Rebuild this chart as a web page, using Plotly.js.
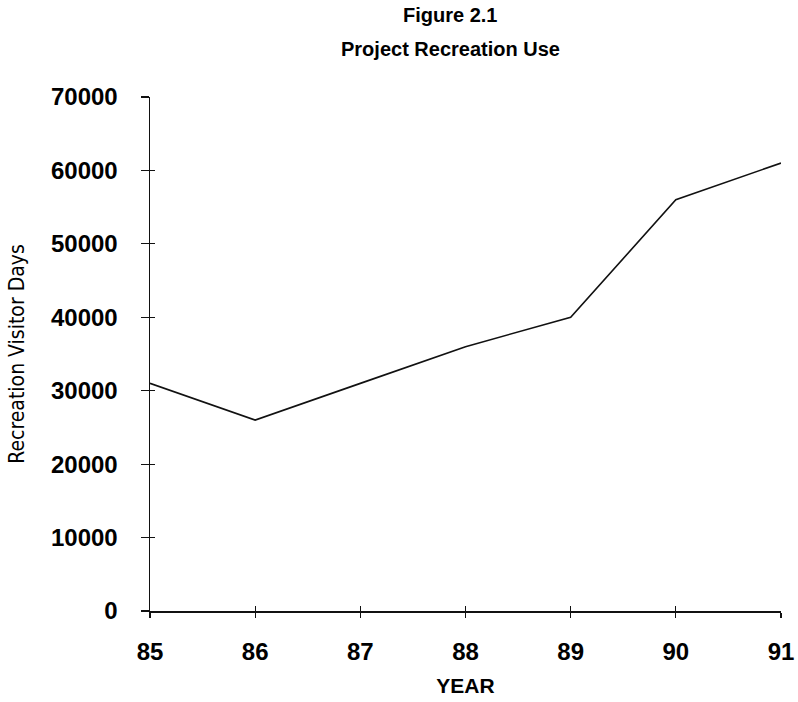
<!DOCTYPE html>
<html>
<head>
<meta charset="utf-8">
<script src="https://cdn.plot.ly/plotly-3.0.1.min.js"></script>
<style>html,body{margin:0;padding:0;background:#fff;}#chart{width:798px;height:702px;}</style>
</head>
<body>
<div id="chart"></div>
<script>
const years = [85, 86, 87, 88, 89, 90, 91];
const visitorDays = [31000, 26000, 31000, 36000, 40000, 56000, 61000];
const yTicks = [0, 10000, 20000, 30000, 40000, 50000, 60000, 70000];

const trace = {
  x: years, y: visitorDays, type: 'scatter', mode: 'lines',
  line: {color: '#111', width: 1.6}, hoverinfo: 'skip'
};
// invisible helper trace so the second (inside-tick) axes are drawn
const helper = {x: years, y: visitorDays, xaxis: 'x2', yaxis: 'y2', type: 'scatter', mode: 'lines',
  line: {color: 'rgba(0,0,0,0)', width: 0}, hoverinfo: 'skip'};

const tickFont = {family: 'Liberation Sans, Arial, sans-serif', size: 24, color: '#000', weight: 'bold'};
const layout = {
  width: 798, height: 702,
  margin: {l: 150, r: 17, t: 97, b: 91},
  paper_bgcolor: '#fff', plot_bgcolor: '#fff',
  showlegend: false,
  xaxis: {
    range: [85, 91], tickvals: years, ticktext: years.map(String),
    showgrid: false, zeroline: false, showline: true, linecolor: '#111', linewidth: 1.5,
    ticks: 'outside', ticklen: 5, tickcolor: '#111', tickwidth: 1.2,
    ticklabelstandoff: 14,
    tickfont: tickFont,
    title: {text: '<b>YEAR</b>', font: {family: 'Liberation Sans, Arial, sans-serif', size: 21, color: '#000'}, standoff: 14}
  },
  yaxis: {
    range: [0, 70000], tickvals: yTicks, ticktext: yTicks.map(String),
    showgrid: false, zeroline: false, showline: true, linecolor: '#111', linewidth: 1.5,
    ticks: 'outside', ticklen: 8, tickcolor: '#111', tickwidth: 1.2,
    ticklabelstandoff: 18,
    tickfont: tickFont,
    title: {text: 'Recreation Visitor Days', font: {family: 'Liberation Sans Narrow, DejaVu Sans Condensed, sans-serif', size: 21, color: '#000'}, standoff: 20}
  },
  xaxis2: {range: [85, 91], overlaying: 'x', anchor: 'y2', tickvals: years, showticklabels: false,
    showgrid: false, zeroline: false, showline: false, ticks: 'inside', ticklen: 5, tickcolor: '#111', tickwidth: 1.2},
  yaxis2: {range: [0, 70000], overlaying: 'y', anchor: 'x2', tickvals: yTicks, showticklabels: false,
    showgrid: false, zeroline: false, showline: false, ticks: 'inside', ticklen: 5, tickcolor: '#111', tickwidth: 1.2},
  annotations: [
    {text: '<b>Figure 2.1</b>', xref: 'paper', yref: 'paper', x: 0.476, y: 1.0 + (97 - 15) / 514, xanchor: 'center', yanchor: 'middle', showarrow: false,
     font: {family: 'Liberation Sans, Arial, sans-serif', size: 20, color: '#000'}},
    {text: '<b>Project Recreation Use</b>', xref: 'paper', yref: 'paper', x: 0.476, y: 1.0 + (97 - 49) / 514, xanchor: 'center', yanchor: 'middle', showarrow: false,
     font: {family: 'Liberation Sans, Arial, sans-serif', size: 20, color: '#000'}}
  ]
};
Plotly.newPlot('chart', [trace, helper], layout, {displayModeBar: false, staticPlot: true});
</script>
</body>
</html>
